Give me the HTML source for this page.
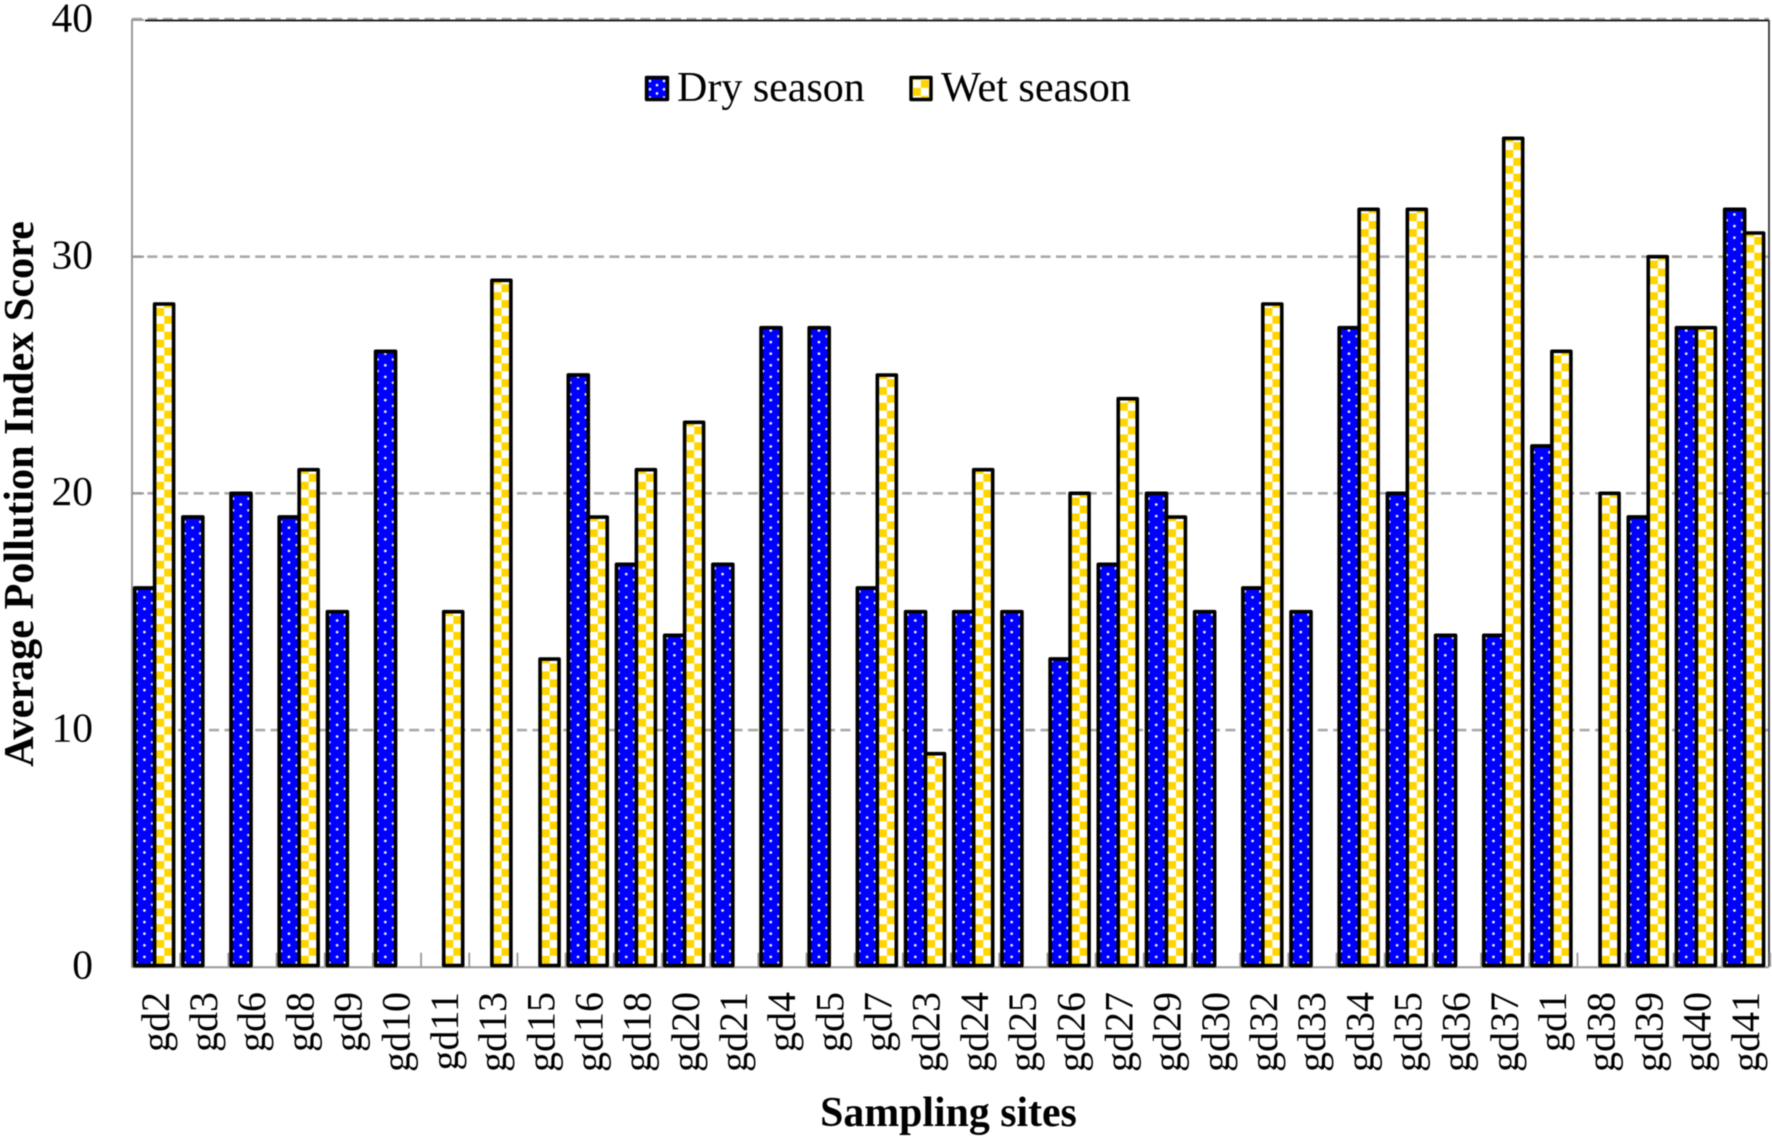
<!DOCTYPE html>
<html>
<head>
<meta charset="utf-8">
<title>Average Pollution Index Score by sampling site</title>
<style>
html,body{margin:0;padding:0;background:#fff;}
svg{display:block;filter:blur(0.5px);}
text{font-family:"Liberation Serif",serif;fill:#000;}
</style>
</head>
<body>
<svg id="chart" xmlns="http://www.w3.org/2000/svg" width="1772" height="1137" viewBox="0 0 1772 1137">
  <defs id="defs">
    <pattern id="legend-dots" patternUnits="userSpaceOnUse" width="14" height="8.3" patternTransform="translate(650,81)">
      <rect width="14" height="8.3" fill="#0000ff"/>
      <circle cx="0" cy="0" r="1.3" fill="#fff"/><circle cx="14" cy="0" r="1.3" fill="#fff"/>
      <circle cx="0" cy="8.3" r="1.3" fill="#fff"/><circle cx="14" cy="8.3" r="1.3" fill="#fff"/>
      <circle cx="7" cy="4.15" r="1.3" fill="#fff"/>
    </pattern>
    <pattern id="legend-check" patternUnits="userSpaceOnUse" width="15.8" height="15.8" patternTransform="translate(913,80)">
      <rect width="15.8" height="15.8" fill="#fff"/>
      <rect x="0" y="7.9" width="7.9" height="7.9" fill="#ffd500"/>
      <rect x="7.9" y="0" width="7.9" height="7.9" fill="#ffd500"/>
    </pattern>
  </defs>
  <rect width="1772" height="1137" fill="#fff"/>
  <g id="grid"></g>
  <g id="frame"></g>
  <g id="bars"></g>
  <g id="yticks"></g>
  <g id="xticks"></g>

  <text transform="translate(33,494) rotate(-90)" text-anchor="middle" font-size="42.2" font-weight="bold">Average Pollution Index Score</text>
  <text x="948.5" y="1126" text-anchor="middle" font-size="41.8" font-weight="bold">Sampling sites</text>

  <g>
    <g>
      <rect x="646.5" y="77.5" width="21" height="22" fill="url(#legend-dots)" stroke="#000" stroke-width="3.4" stroke-linejoin="round"/>
      <text x="677" y="101" font-size="42">Dry season</text>
    </g>
    <g>
      <rect x="911" y="77.5" width="20" height="22" fill="url(#legend-check)" stroke="#000" stroke-width="3.4" stroke-linejoin="round"/>
      <text x="941" y="101" font-size="42.2">Wet season</text>
    </g>
  </g>
</svg>
<script>
const categories = ["gd2","gd3","gd6","gd8","gd9","gd10","gd11","gd13","gd15","gd16","gd18","gd20","gd21","gd4","gd5","gd7","gd23","gd24","gd25","gd26","gd27","gd29","gd30","gd32","gd33","gd34","gd35","gd36","gd37","gd1","gd38","gd39","gd40","gd41"];
const drySeason = [16,19,20,19,15,26,null,null,null,25,17,14,17,27,27,16,15,15,15,13,17,20,15,16,15,27,20,14,14,22,null,19,27,32];
const wetSeason = [28,null,null,21,null,null,15,29,13,19,21,23,null,null,null,25,9,21,null,20,24,19,null,28,null,32,32,null,35,26,20,30,27,31];
const yTicks = [0,10,20,30,40];

const NS = "http://www.w3.org/2000/svg";
const plotLeft = 132, plotRight = 1769, plotTop = 20, plotBottom = 966.7, yMax = 40;
const groupStep = (1722 - 132) / 33;
function yScale(v){ return plotBottom - (v / yMax) * (plotBottom - plotTop); }
function xScale(i){ return plotLeft + i * groupStep; }
function make(tag, attrs, parent){
  const el = document.createElementNS(NS, tag);
  for (const k in attrs) el.setAttribute(k, attrs[k]);
  parent.appendChild(el);
  return el;
}

const defs = document.getElementById("defs");
const grid = document.getElementById("grid");
const frame = document.getElementById("frame");
const bars = document.getElementById("bars");
const yticks = document.getElementById("yticks");
const xticks = document.getElementById("xticks");

function dotPattern(id, x, y){
  const tw = 15.6, th = 11.6;
  const p = make("pattern", {id:id, patternUnits:"userSpaceOnUse", width:tw, height:th, patternTransform:"translate("+x+","+y+")"}, defs);
  make("rect", {width:tw, height:th, fill:"#0000ff"}, p);
  make("circle", {cx:0, cy:0, r:1.35, fill:"#fff"}, p);
  make("circle", {cx:tw, cy:0, r:1.35, fill:"#fff"}, p);
  make("circle", {cx:0, cy:th, r:1.35, fill:"#fff"}, p);
  make("circle", {cx:tw, cy:th, r:1.35, fill:"#fff"}, p);
  make("circle", {cx:tw/2, cy:th/2, r:1.35, fill:"#fff"}, p);
}
function checkPattern(id, x, y){
  const p = make("pattern", {id:id, patternUnits:"userSpaceOnUse", width:15.8, height:15.8, patternTransform:"translate("+x+","+y+")"}, defs);
  make("rect", {width:15.8, height:15.8, fill:"#fff"}, p);
  make("rect", {x:0, y:7.9, width:7.9, height:7.9, fill:"#ffd500"}, p);
  make("rect", {x:7.9, y:0, width:7.9, height:7.9, fill:"#ffd500"}, p);
}

// gridlines (behind bars)
yTicks.forEach(function(t){
  if (t === 0) return;
  const line = make("line", {x1:plotLeft, x2:plotRight, y1:yScale(t) - (t === yMax ? 1 : 0), y2:yScale(t) - (t === yMax ? 1 : 0), stroke:"#aaaaaa", "stroke-width":2.6, "stroke-dasharray":"10 5.4"}, grid);
  
  
});

// frame
const topLine = make("line", {x1:145, x2:plotRight, y1:plotTop + 0.5, y2:plotTop + 0.5, stroke:"#111", "stroke-width":1.8}, frame);


const rightLine = make("line", {x1:plotRight, x2:plotRight, y1:plotTop, y2:plotBottom, stroke:"#333", "stroke-width":1.8}, frame);


const yAxisLine = make("line", {x1:plotLeft, x2:plotLeft, y1:plotTop - 1, y2:plotBottom + 1, stroke:"#999", "stroke-width":2}, frame);


const xAxisLine = make("line", {x1:plotLeft, x2:plotRight, y1:plotBottom + 0.5, y2:plotBottom + 0.5, stroke:"#999", "stroke-width":2}, frame);



// x tick marks
for (let i = 0; i <= categories.length; i++) {
  const tick = make("line", {x1:xScale(i), x2:xScale(i), y1:plotBottom - 14, y2:plotBottom, stroke:"#999", "stroke-width":1.8}, frame);
  
  
}

// bars
const dryOffset = 2.7, midOffset = 22.6, wetEnd = 41.6;
categories.forEach(function(cat, i){
  const x0 = xScale(i);
  const d = drySeason[i], w = wetSeason[i];
  if (d !== null) {
    const top = yScale(d);
    dotPattern("dots-" + i, x0 + 4.6, plotBottom - 4);
    const r = make("rect", {x:x0 + dryOffset, y:top, width:midOffset - dryOffset, height:plotBottom - top - 1.2, fill:"url(#dots-" + i + ")", stroke:"#000", "stroke-width":3.7, "stroke-linejoin":"round"}, bars);
    
    
  }
  if (w !== null) {
    const top = yScale(w);
    checkPattern("check-" + i, x0 + midOffset + 1.7, plotBottom - 3);
    const r = make("rect", {x:x0 + midOffset, y:top, width:wetEnd - midOffset, height:plotBottom - top - 1.2, fill:"url(#check-" + i + ")", stroke:"#000", "stroke-width":3.6, "stroke-linejoin":"round"}, bars);
    
    
  }
});

// y ticks and labels
yTicks.forEach(function(t){
  if (t !== 0) {
    const m = make("line", {x1:plotLeft, x2:144, y1:yScale(t), y2:yScale(t), stroke:"#999", "stroke-width":2}, frame);
    
    
  }
  const label = make("text", {x:93, y:yScale(t) + 11.7, "text-anchor":"end", "font-size":41.5}, yticks);
  
  
  label.textContent = String(t);
});

// x labels
categories.forEach(function(cat, i){
  const lx = xScale(i) + 36.8;
  const label = make("text", {transform:"translate(" + lx + ",992) rotate(-90)", "text-anchor":"end", "font-size":40}, xticks);
  
  
  label.textContent = cat;
});
</script>
</body>
</html>
